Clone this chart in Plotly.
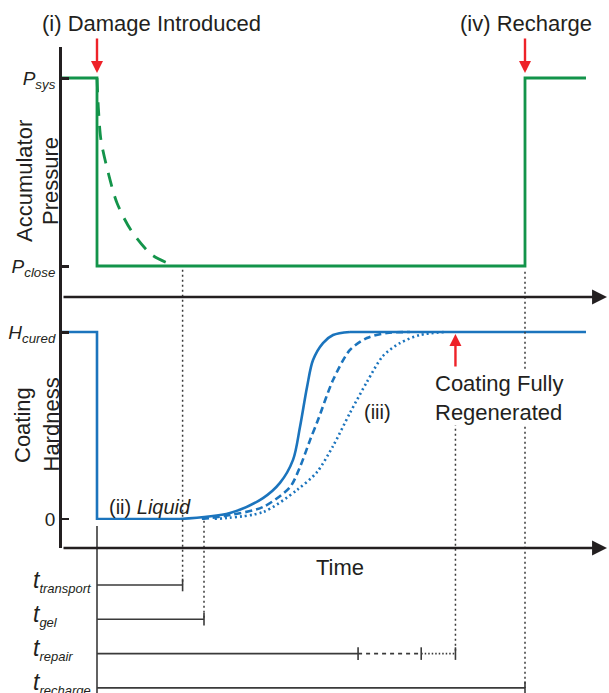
import plotly.graph_objects as go

# ---------------- data (time in arbitrary units, t = 0 when damage is introduced) ----------------
t_start = -3.27          # time at the origin of the drawn axes
t_end = 45.7             # end of the drawn curves
t_damage = 0.0
t_transport = 8.0
t_gel = 10.0
t_repair_stages = [24.4, 30.3, 33.5]   # fast (solid), medium (dashed), slow (dotted) cure
t_recharge = 40.0

row_names = ["transport", "gel", "repair", "recharge"]

# accumulator pressure, normalised (1 = P_sys, 0 = P_close)
pressure_t = [t_start, 0.0, 0.0, 40.0, 40.0, t_end]
pressure_v = [1, 1, 0, 0, 1, 1]
slow_drop_t = [0.0, 0.14, 0.37, 1.03, 1.87, 3.18, 5.14, 7.29]
slow_drop_v = [1.0, 0.83, 0.67, 0.50, 0.335, 0.19, 0.059, 0.0]

# coating hardness, normalised (1 = H_cured, 0 = liquid)
hard_step_t = [t_start, 0.0, 0.0, 7.76]
hard_step_h = [1, 1, 0, 0]
fast_t = [7.76, 12.43, 15.51, 17.10, 18.32, 18.97, 19.63, 20.19, 21.12, 22.06, 23.64]
fast_h = [0.0, 0.032, 0.112, 0.193, 0.316, 0.492, 0.706, 0.850, 0.941, 0.984, 1.0]
mid_t = [9.8, 10.56, 12.43, 15.51, 18.04, 18.97, 19.91, 20.65, 22.06, 23.64, 25.23, 27.10, 29.25]
mid_h = [0.0, 0.005, 0.021, 0.064, 0.171, 0.278, 0.422, 0.529, 0.743, 0.904, 0.968, 0.995, 1.0]
slow_t = [11.0, 15.51, 18.69, 20.56, 22.06, 23.64, 25.23, 26.73, 28.32, 30.19, 32.52]
slow_h = [0.0, 0.037, 0.155, 0.251, 0.390, 0.567, 0.733, 0.872, 0.941, 0.984, 1.0]
plateau_t = [23.64, t_end]
plateau_h = [1, 1]

# ---------------- styling / layout constants ----------------
W, H = 609, 693
FONT = "Liberation Sans, Arial, Helvetica, sans-serif"
GREEN = "#13944a"
BLUE = "#1b74bd"
RED = "#ee2229"
BLACK = "#231f20"
GRAY = "#3a3a3a"

PX_PER_T = 10.7
PX_T0 = 97
def t_at(px):
    return (px - PX_T0) / PX_PER_T

X_DOM = [62 / W, 1.0]
X_RNG = [t_at(62), t_at(609)]
P_DOM = [1 - 297 / H, 1 - 47 / H]
P_RNG = [(266 - 297) / 188, 1 + (78 - 47) / 188]
H_DOM = [1 - 548 / H, 1 - 297 / H]
H_RNG = [(519 - 548) / 187, 1 + (332 - 297) / 187]
R_DOM = [0.0, 1 - 520 / H]
ROW_PX = 34.3
R_RNG = [(693 - 585) / ROW_PX, (520 - 585) / ROW_PX]

def _paper(v, dom, rng):
    return dom[0] + (v - rng[0]) / (rng[1] - rng[0]) * (dom[1] - dom[0])
def pp(v): return _paper(v, P_DOM, P_RNG)
def hp(v): return _paper(v, H_DOM, H_RNG)
def rp(v): return _paper(v, R_DOM, R_RNG)

fig = go.Figure()

# pressure panel
fig.add_trace(go.Scatter(x=slow_drop_t, y=slow_drop_v, mode="lines", line=dict(color=GREEN, width=2.8, dash="14px,10px", shape="spline", smoothing=0.8), xaxis="x", yaxis="y"))
fig.add_trace(go.Scatter(x=pressure_t, y=pressure_v, mode="lines", line=dict(color=GREEN, width=2.8), xaxis="x", yaxis="y"))

# hardness panel
fig.add_trace(go.Scatter(x=slow_t, y=slow_h, mode="lines", line=dict(color=BLUE, width=2.6, dash="2px,3px", shape="spline", smoothing=0.8), xaxis="x", yaxis="y2"))
fig.add_trace(go.Scatter(x=mid_t, y=mid_h, mode="lines", line=dict(color=BLUE, width=2.6, dash="7px,4px", shape="spline", smoothing=0.8), xaxis="x", yaxis="y2"))
fig.add_trace(go.Scatter(x=fast_t, y=fast_h, mode="lines", line=dict(color=BLUE, width=2.6, shape="spline", smoothing=0.9), xaxis="x", yaxis="y2"))
fig.add_trace(go.Scatter(x=hard_step_t, y=hard_step_h, mode="lines", line=dict(color=BLUE, width=2.6), xaxis="x", yaxis="y2"))
fig.add_trace(go.Scatter(x=plateau_t, y=plateau_h, mode="lines", line=dict(color=BLUE, width=2.6), xaxis="x", yaxis="y2"))

# timeline bars
bar_ends = [t_transport, t_gel, t_repair_stages[2], t_recharge]
for i, te in enumerate(bar_ends):
    if row_names[i] == "repair":
        segs = [(t_damage, t_repair_stages[0], "solid"),
                (t_repair_stages[0], t_repair_stages[1], "4px,4px"),
                (t_repair_stages[1], t_repair_stages[2], "1.5px,2px")]
        ticks = t_repair_stages
    else:
        segs = [(t_damage, te, "solid")]
        ticks = [te]
    for a, b, d in segs:
        fig.add_trace(go.Scatter(x=[a, b], y=[i, i], mode="lines", line=dict(color=GRAY, width=1.6, dash=d), xaxis="x", yaxis="y3"))
    fig.add_trace(go.Scatter(x=ticks, y=[i] * len(ticks), mode="markers",
                             marker=dict(symbol="line-ns-open", size=9, color=GRAY, line=dict(color=GRAY, width=1.6)),
                             xaxis="x", yaxis="y3"))

shapes = []
dot = dict(color=GRAY, width=1.5, dash="2px,3px")
# vertical guide lines
shapes.append(dict(type="line", xref="x", yref="paper", x0=t_transport, x1=t_transport, y0=pp(-0.02), y1=rp(0), line=dot))
shapes.append(dict(type="line", xref="x", yref="paper", x0=t_gel, x1=t_gel, y0=hp(-0.01), y1=rp(1), line=dot))
shapes.append(dict(type="line", xref="x", yref="paper", x0=t_repair_stages[2], x1=t_repair_stages[2], y0=hp(0.51), y1=rp(2), line=dot))
shapes.append(dict(type="line", xref="x", yref="paper", x0=t_recharge, x1=t_recharge, y0=pp(-0.03), y1=rp(3), line=dot))
# t = 0 reference for timeline
shapes.append(dict(type="line", xref="x", yref="paper", x0=t_damage, x1=t_damage, y0=hp(-0.037), y1=0, line=dict(color=GRAY, width=1.6)))

ann = []
def arrow_axis(yval, yref):
    return dict(x=t_at(607), y=yval, xref="x", yref=yref, ax=t_at(62), ay=yval, axref="x", ayref=yref,
                text="", showarrow=True, arrowhead=2, arrowsize=1.15, arrowwidth=2.6, arrowcolor=BLACK)
ann.append(arrow_axis(P_RNG[0], "y"))
ann.append(arrow_axis(H_RNG[0], "y2"))

def red_arrow(x, y, yref, ay, standoff):
    return dict(x=x, y=y, xref="x", yref=yref, ax=0, ay=ay, text="", showarrow=True,
                arrowhead=2, arrowsize=1.0, arrowwidth=2.4, arrowcolor=RED, standoff=standoff)
ann.append(red_arrow(t_damage, 1, "y", -41, 5))
ann.append(red_arrow(t_recharge, 1, "y", -41, 5))
ann.append(red_arrow(t_repair_stages[2], 1, "y2", 36, 2))

def txt(text, x, y, size=22, xanchor="center", yanchor="middle", **kw):
    d = dict(text=text, x=x, y=y, xref="paper", yref="paper", showarrow=False,
             font=dict(family=FONT, size=size, color=BLACK), xanchor=xanchor, yanchor=yanchor)
    d.update(kw)
    return d

ann.append(txt("(i) Damage Introduced", 151 / W, 1 - 23 / H))
ann.append(txt("(iv) Recharge", 526 / W, 1 - 23 / H))
ann.append(txt("Accumulator", 24 / W, 1 - 181 / H, textangle=-90))
ann.append(txt("Pressure", 50 / W, 1 - 181 / H, textangle=-90))
ann.append(txt("Coating", 22 / W, 1 - 425 / H, textangle=-90))
ann.append(txt("Hardness", 50.5 / W, 1 - 425 / H, textangle=-90))
ann.append(txt("Coating Fully<br>Regenerated", 499 / W, 1 - 398 / H, align="left", bgcolor="white", borderpad=0))
ann.append(txt("(iii)", 377 / W, 1 - 412 / H, size=20))
ann.append(txt("(ii) <i>Liquid</i>", 150 / W, 1 - 507 / H, size=20))
ann.append(txt("Time", 340 / W, 1 - 567 / H))

for i, name in enumerate(row_names):
    ann.append(dict(text="<i>t</i><sub><i><span style=\"font-size:13px\">%s</span></i></sub>" % name,
                    x=31 / W, y=rp(i), xref="paper", yref="paper", xanchor="left", yanchor="middle",
                    yshift=4, showarrow=False, font=dict(family=FONT, size=23, color=BLACK)))

axis_common = dict(showgrid=False, zeroline=False, showline=True, linewidth=2.8, linecolor=BLACK,
                   ticks="inside", ticklen=7, tickwidth=2.6, tickcolor=BLACK,
                   tickfont=dict(family=FONT, size=19, color=BLACK), anchor="x", fixedrange=True)

fig.update_layout(
    width=W, height=H, margin=dict(l=0, r=0, t=0, b=0),
    paper_bgcolor="white", plot_bgcolor="white", showlegend=False,
    xaxis=dict(domain=X_DOM, range=X_RNG, visible=False, anchor="y2", fixedrange=True),
    yaxis=dict(domain=P_DOM, range=P_RNG, tickvals=[0, 1],
               ticktext=["<i>P</i><sub><i>close</i></sub>", "<i>P</i><sub><i>sys</i></sub>"], **axis_common),
    yaxis2=dict(domain=H_DOM, range=H_RNG, tickvals=[0, 1],
                ticktext=["0", "<i>H</i><sub><i>cured</i></sub>"], **axis_common),
    yaxis3=dict(domain=R_DOM, range=R_RNG, visible=False, anchor="x", fixedrange=True),
    shapes=shapes, annotations=ann,
)

fig.write_html("out.html")
